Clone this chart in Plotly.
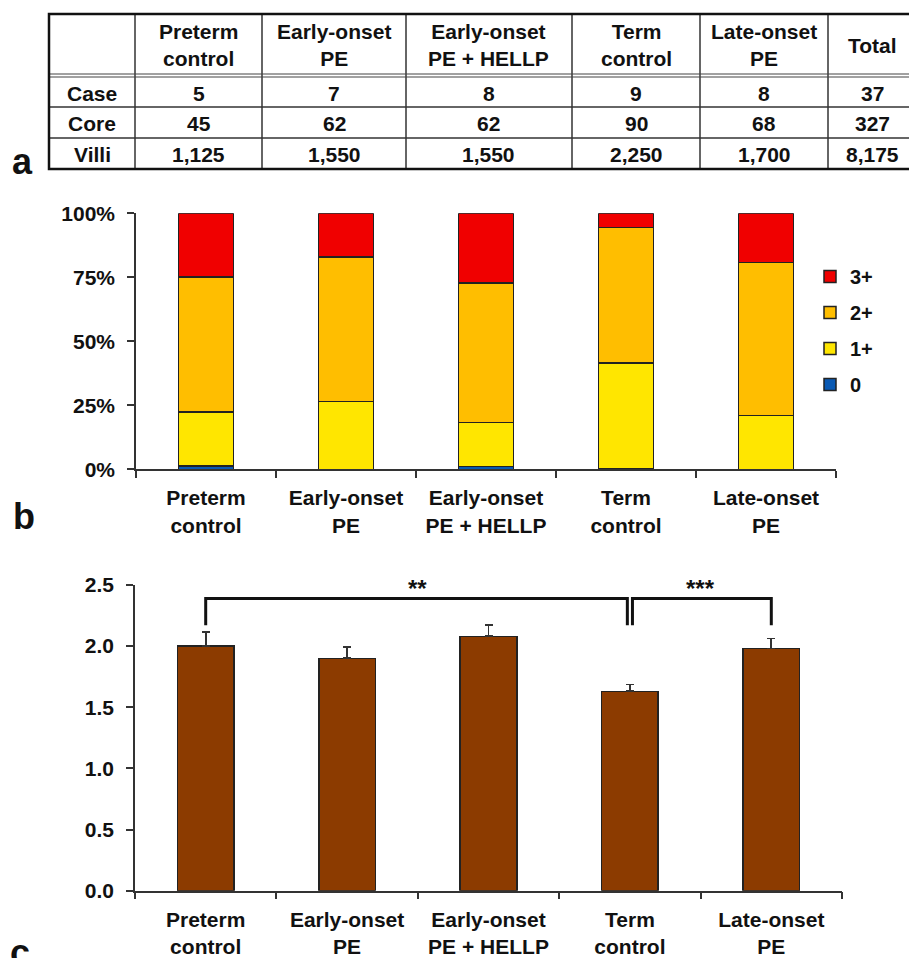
import plotly.graph_objects as go

# ---------------- data ----------------
groups = ["Preterm<br>control", "Early-onset<br>PE", "Early-onset<br>PE + HELLP",
          "Term<br>control", "Late-onset<br>PE"]
row_names = ["Case", "Core", "Villi"]
cases = [5, 7, 8, 9, 8]
cores = [45, 62, 62, 90, 68]
villi = [1125, 1550, 1550, 2250, 1700]

score_names = ["0", "1+", "2+", "3+"]
score0 = [1.3, 0.0, 1.0, 0.4, 0.0]
score1 = [21.0, 26.4, 17.2, 41.2, 21.1]
score2 = [52.9, 56.6, 54.5, 52.8, 59.6]
score3 = [24.8, 17.0, 27.3, 5.6, 19.3]
pct_ticks = [0, 25, 50, 75, 100]

mean_score = [2.00, 1.90, 2.08, 1.63, 1.98]
sem_score = [0.115, 0.095, 0.095, 0.057, 0.082]

comparisons = [(0, 3, "**"), (3, 4, "***")]

# ---------------- layout helpers ----------------
W, H = 909, 958
FONT = "Liberation Sans, Arial, sans-serif"


def px(x):
    return x / W


def py(y):
    return 1 - y / H


fig = go.Figure()

# ---------------- panel b: stacked bars ----------------
score_colors = ["#0A5AB4", "#FFE600", "#FFBE00", "#F00000"]
n_scores = len(score_names)
for k, (name, vals, col) in enumerate(zip(score_names, [score0, score1, score2, score3], score_colors)):
    fig.add_trace(go.Bar(
        x=groups, y=vals, name=name, marker=dict(color=col, line=dict(color="#222", width=1.5)),
        width=0.39, xaxis="x", yaxis="y", legendgroup=name, legendrank=n_scores - k,
    ))

# ---------------- panel c: mean score ----------------
fig.add_trace(go.Bar(
    x=groups, y=mean_score, showlegend=False, width=0.40,
    marker=dict(color="#8C3B00", line=dict(color="#222", width=1.5)),
    error_y=dict(type="data", array=sem_score, arrayminus=[0] * len(sem_score),
                 symmetric=False, color="#333", thickness=1.8, width=4),
    xaxis="x2", yaxis="y2",
))

shapes = []
annotations = []

# significance brackets (panel c)
BR_Y, BR_DROP = 2.39, 2.17
for i, (a, b, lab) in enumerate(comparisons):
    xa = a + (0.018 if i > 0 else 0)
    xb = b - (0.018 if i == 0 else 0)
    shapes.append(dict(type="path", xref="x2", yref="y2",
                       path=f"M {xa},{BR_DROP} L {xa},{BR_Y} L {xb},{BR_Y} L {xb},{BR_DROP}",
                       line=dict(color="#111", width=3)))
    annotations.append(dict(x=(a + b) / 2, y=BR_Y, xref="x2", yref="y2", text=lab,
                            showarrow=False, xanchor="center", yanchor="bottom", yshift=-6,
                            font=dict(family=FONT, size=24, color="#111", weight="bold")))

# ---------------- panel a: table ----------------
col_edges = [49, 135, 262, 406, 572, 700, 828, 916]
top, hdr_bot, row_edges_y = 14, 75, [77, 107, 138, 169]
line_c = "#333"
for xe in col_edges[1:-1]:
    shapes.append(dict(type="line", xref="paper", yref="paper", x0=px(xe), x1=px(xe),
                       y0=py(top), y1=py(row_edges_y[-1]), line=dict(color=line_c, width=1.5)))
for yy in (hdr_bot - 1, hdr_bot + 2):
    shapes.append(dict(type="line", xref="paper", yref="paper", x0=px(col_edges[0]), x1=px(col_edges[-1]),
                       y0=py(yy), y1=py(yy), line=dict(color="#444", width=1.2)))
for yy in row_edges_y[1:-1]:
    shapes.append(dict(type="line", xref="paper", yref="paper", x0=px(col_edges[0]), x1=px(col_edges[-1]),
                       y0=py(yy), y1=py(yy), line=dict(color=line_c, width=1.5)))
shapes.append(dict(type="rect", xref="paper", yref="paper", x0=px(col_edges[0]), x1=px(col_edges[-1]),
                   y0=py(top), y1=py(row_edges_y[-1]), line=dict(color="#111", width=2.5)))

tfont = dict(family=FONT, size=21, color="#111", weight="bold")
header = groups + ["Total"]
for j, h in enumerate(header):
    cx = (col_edges[j + 1] + col_edges[j + 2]) / 2
    annotations.append(dict(x=px(cx), y=py((top + hdr_bot) / 2 + 1), xref="paper", yref="paper",
                            xanchor="center", yanchor="middle",
                            text=h, showarrow=False, font=tfont, align="center"))
table_rows = [cases, cores, villi]
for r, (rn, vals) in enumerate(zip(row_names, table_rows)):
    cy = (row_edges_y[r] + row_edges_y[r + 1]) / 2 + 1
    annotations.append(dict(x=px((col_edges[0] + col_edges[1]) / 2), y=py(cy), xref="paper", yref="paper",
                            xanchor="center", yanchor="middle",
                            text=rn, showarrow=False, font=tfont))
    for j, v in enumerate(vals + [sum(vals)]):
        cx = (col_edges[j + 1] + col_edges[j + 2]) / 2
        annotations.append(dict(x=px(cx), y=py(cy), xref="paper", yref="paper",
                                xanchor="center", yanchor="middle",
                                text=f"{v:,}", showarrow=False, font=tfont))

# panel letters
for lab, lx, ly in [("a", 22, 162), ("b", 24, 516), ("c", 20, 952)]:
    annotations.append(dict(x=px(lx), y=py(ly), xref="paper", yref="paper", text=lab,
                            xanchor="center", yanchor="middle",
                            showarrow=False, font=dict(family=FONT, size=36, color="#111", weight="bold")))

tickfont = dict(family=FONT, size=21, color="#111", weight="bold")
common_x = dict(showline=True, linecolor="#333", linewidth=1.5, ticks="outside", ticklen=7,
                tickcolor="#333", tickwidth=1.5, tickson="boundaries", tickfont=tickfont,
                showgrid=False, zeroline=False, automargin=False, ticklabelstandoff=9)
common_y = dict(showline=True, linecolor="#333", linewidth=1.5, ticks="outside", ticklen=7,
                tickcolor="#333", tickwidth=1.5, tickfont=tickfont, showgrid=False, zeroline=False,
                automargin=False, ticklabelstandoff=8)

fig.update_layout(
    width=W, height=H, margin=dict(l=0, r=0, t=0, b=0, autoexpand=False),
    paper_bgcolor="white", plot_bgcolor="white",
    barmode="stack", bargap=0.6,
    xaxis=dict(domain=[px(136), px(836)], anchor="y", **common_x),
    yaxis=dict(domain=[py(469.3), py(213.3)], anchor="x", range=[0, 100],
               tickmode="array", tickvals=pct_ticks, ticktext=[f"{v}%" for v in pct_ticks], **common_y),
    xaxis2=dict(domain=[px(135), px(842)], anchor="y2", **common_x),
    yaxis2=dict(domain=[py(890.7), py(585)], anchor="x2", range=[0, 2.5], dtick=0.5,
                tickformat=".1f", **common_y),
    legend=dict(x=px(810), y=py(257), xanchor="left", yanchor="top", traceorder="grouped",
                tracegroupgap=7, font=dict(family=FONT, size=20, color="#111", weight="bold"),
                itemwidth=30, bgcolor="rgba(0,0,0,0)"),
    shapes=shapes, annotations=annotations,
    showlegend=True,
)

fig.write_html("out.html", config={"displayModeBar": False},
               post_script="document.body.style.margin='0';document.body.style.overflow='hidden';")
